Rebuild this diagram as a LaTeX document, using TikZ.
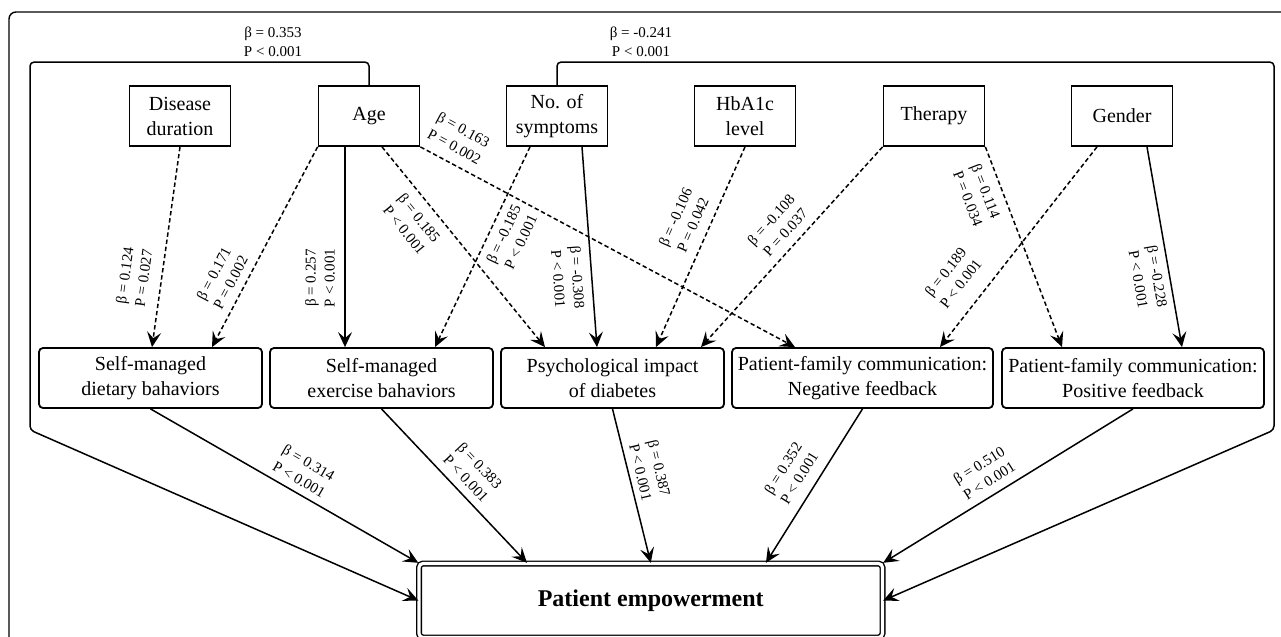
\documentclass[tikz,border=0pt]{standalone}
\usepackage{fontspec}
\setmainfont{Liberation Serif}
\usetikzlibrary{arrows.meta}

\begin{document}
\begin{tikzpicture}[x=0.5pt,y=-0.5pt]
\begin{scope}
\tikzstyle{factor} = [rectangle,draw,line width=0.9pt,minimum width=50.5pt,minimum height=30pt,inner sep=1pt,align=center,font=\fontsize{10}{12.5}\selectfont]
\tikzstyle{outcome} = [factor,rounded corners=2pt,minimum width=111.5pt]
\tikzstyle{coef} = [inner sep=0pt,align=center,font=\fontsize{7.5}{9.5}\selectfont]
\tikzstyle{link} = [-{Stealth[length=7.5pt,width=7pt,inset=3pt]},line width=0.75pt]
\tikzstyle{weak} = [link,dash pattern=on 2.2pt off 1.4pt]

\useasboundingbox (0,0) rectangle (1281,637);

% frame
\draw [line width=0.7pt,rounded corners=3.5pt] (9,660) -- (9,12) -- (1300,12);

% factors
\node [factor] (dur) at (180,116) {Disease\\duration};
\node [factor] (age) at (369,116) {Age};
\node [factor] (sym) at (557,116) {No. of\\symptoms};
\node [factor] (hba) at (745,116) {HbA1c\\level};
\node [factor] (ther) at (934,116) {Therapy};
\node [factor] (gen) at (1122,116) {Gender};

% mediators
\node [outcome] (diet) at (150.5,378) {Self-managed\\dietary bahaviors};
\node [outcome] (exer) at (381.5,378) {Self-managed\\exercise bahaviors};
\node [outcome] (psy) at (612.5,378) {Psychological impact\\of diabetes};
\node [outcome,minimum width=130.5pt] (neg) at (862.5,378) {Patient-family communication:\\Negative feedback};
\node [outcome,minimum width=131pt] (pos) at (1133,378) {Patient-family communication:\\Positive feedback};

\node [rectangle,draw,double,double distance=1.6pt,line width=0.7pt,rounded corners=2pt,minimum width=231.75pt,minimum height=37pt,font=\fontsize{12}{14}\selectfont\bfseries] (pe) at (650.75,600.5) {Patient empowerment};

% direct paths
\coordinate (lc) at (30,430);
\coordinate (rc) at (1274,430);
\draw [link,rounded corners=2pt] (age.north) -- ++(0,-23) -| (lc) -- (pe.west);
\draw [link,rounded corners=2pt] (sym.north) -- ++(0,-23) -| (rc) -- (pe.east);
\node [coef] (b1) at (273,42) {β = 0.353\\P < 0.001};
\node [coef] (b2) at (641,42) {β = -0.241\\P < 0.001};

% factors to mediators
\draw [weak] (dur.south) -- ([xshift=0.75pt]diet.north);
\draw [weak] (age.south west) -- ([xshift=30.75pt]diet.north);
\draw [link] ([xshift=-12pt]age.south) -- ([xshift=-18.25pt]exer.north);
\draw [weak] ([xshift=6.5pt]age.south) -- ([xshift=-33.75pt]psy.north);
\draw [weak] (age.south east) -- ([xshift=-33.75pt]neg.north);
\draw [weak] ([xshift=-13.5pt]sym.south) -- ([xshift=26.75pt]exer.north);
\draw [link] ([xshift=12.5pt]sym.south) -- ([xshift=-7.75pt]psy.north);
\draw [weak] (hba.south) -- ([xshift=21.75pt]psy.north);
\draw [weak] (ther.south west) -- ([xshift=44.25pt]psy.north);
\draw [weak] (ther.south east) -- ([xshift=-35.5pt]pos.north);
\draw [weak] ([xshift=-12.5pt]gen.south) -- ([xshift=38.75pt]neg.north);
\draw [link] ([xshift=12.5pt]gen.south) -- ([xshift=24.5pt]pos.north);

\node [coef,rotate=82.1] (c6) at (134,277) {β = 0.124\\P = 0.027};
\node [coef,rotate=62.3] (c7) at (222,278) {β = 0.171\\P = 0.002};
\node [coef,rotate=90] (c8) at (320,278) {β = 0.257\\P < 0.001};
\node [coef,rotate=-51.1] (c9) at (412,224) {β = 0.185\\P < 0.001};
\node [coef,rotate=-28.3] (c10) at (459,138) {β = 0.163\\P = 0.002};
\node [coef,rotate=64.8] (c11) at (512,238) {β = -0.185\\P < 0.001};
\node [coef,rotate=-85.8] (c12) at (568,278) {β = -0.308\\P < 0.001};
\node [coef,rotate=66.2] (c13) at (684,221) {β = -0.106\\P = 0.042};
\node [coef,rotate=47.8] (c14) at (778,226) {β = -0.108\\P = 0.037};
\node [coef,rotate=-68.9] (c15) at (977,195) {β = 0.114\\P = 0.034};
\node [coef,rotate=52.1] (c16) at (953,278) {β = 0.189\\P < 0.001};
\node [coef,rotate=-80.2] (c17) at (1148,278) {β = -0.228\\P < 0.001};

% mediators to outcome
\draw [link] (diet.south) -- (pe.north west);
\draw [link] (exer.south) -- ([xshift=-61.9pt]pe.north);
\draw [link] (psy.south) -- (pe.north);
\draw [link] (neg.south) -- ([xshift=57.6pt]pe.north);
\draw [link] (pos.south) -- (pe.north east);

\node [coef,rotate=-30.2] (c1) at (304,471) {β = 0.314\\P < 0.001};
\node [coef,rotate=-46.7] (c2) at (473,472) {β = 0.383\\P < 0.001};
\node [coef,rotate=-76.8] (c3) at (650,470) {β = 0.387\\P < 0.001};
\node [coef,rotate=58] (c4) at (791,473) {β = 0.352\\P < 0.001};
\node [coef,rotate=32.2] (c5) at (984,473) {β = 0.510\\P < 0.001};
\end{scope}
\end{tikzpicture}
\end{document}
